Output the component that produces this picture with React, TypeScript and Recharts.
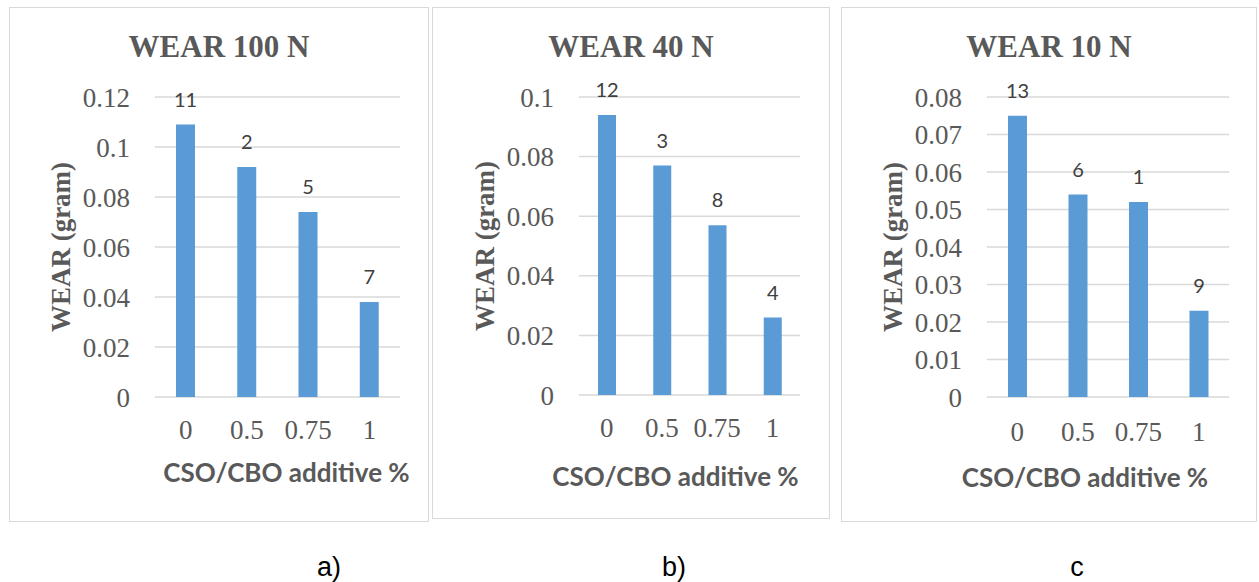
import React from 'react';
import { BarChart, Bar, XAxis, YAxis, CartesianGrid, LabelList } from 'recharts';

// CSO/CBO additive content (%) on the x axis
const additive = ['0', '0.5', '0.75', '1'];

// wear mass loss (gram) at each load
const wear100N = [0.109, 0.092, 0.074, 0.038];
const wear40N = [0.094, 0.077, 0.057, 0.026];
const wear10N = [0.075, 0.054, 0.052, 0.023];

// numbers printed above the bars
const tags100N = ['11', '2', '5', '7'];
const tags40N = ['12', '3', '8', '4'];
const tags10N = ['13', '6', '1', '9'];

// y axis ticks
const ticks100N = [0, 0.02, 0.04, 0.06, 0.08, 0.1, 0.12];
const ticks40N = [0, 0.02, 0.04, 0.06, 0.08, 0.1];
const ticks10N = [0, 0.01, 0.02, 0.03, 0.04, 0.05, 0.06, 0.07, 0.08];

const titles = ['WEAR 100 N', 'WEAR 40 N', 'WEAR 10 N'];
const captions = ['a)', 'b)', 'c'];

const BLUE = '#5b9bd5';
const GRID = '#d9d9d9';
const TEXT = '#595959';
const SERIF = '"Liberation Serif", "Times New Roman", serif';
const SANS = 'Lato, "Liberation Sans", sans-serif';

type PanelProps = {
  left: number;
  top: number;
  width: number;
  height: number;
  values: number[];
  tags: string[];
  ticks: number[];
  margin: { top: number; right: number; bottom: number; left: number };
  barSize: number;
  xTitleDx: number;
  xTitleDy: number;
  xTickMargin: number;
};

const WearPanel: React.FC<PanelProps> = ({
  left, top, width, height, values, tags, ticks, margin, barSize, xTitleDx, xTitleDy, xTickMargin,
}) => {
  const data = additive.map((name, i) => ({ name, wear: values[i], tag: tags[i] }));
  return (
    <div style={{ position: 'absolute', left, top, width, height }}>
      <div style={{ position: 'absolute', inset: 0, border: `1.5px solid ${GRID}` }} />
      <BarChart width={width} height={height} data={data} margin={margin}>
        <CartesianGrid vertical={false} stroke={GRID} strokeWidth={1.5} />
        <XAxis
          dataKey="name"
          height={100}
          interval={0}
          axisLine={false}
          tickLine={false}
          tickSize={0}
          tickMargin={xTickMargin}
          tick={{ fill: TEXT, fontSize: 27, fontFamily: SERIF }}
          label={{
            value: 'CSO/CBO additive %',
            position: 'center',
            dx: xTitleDx,
            dy: xTitleDy,
            fill: TEXT,
            style: { fontSize: 26, fontWeight: 700, fontFamily: SANS, fill: TEXT },
          }}
        />
        <YAxis
          width={100}
          domain={[0, ticks[ticks.length - 1]]}
          ticks={ticks}
          interval={0}
          axisLine={false}
          tickLine={false}
          tickSize={0}
          tickMargin={25}
          tickFormatter={(v: number) => String(v)}
          tick={{ fill: TEXT, fontSize: 27, fontFamily: SERIF }}
          label={{
            value: 'WEAR (gram)',
            angle: -90,
            position: 'center',
            dx: -45,
            fill: TEXT,
            style: { fontSize: 27, fontWeight: 700, fontFamily: SERIF, fill: TEXT },
          }}
        />
        <Bar dataKey="wear" fill={BLUE} barSize={barSize} isAnimationActive={false}>
          <LabelList dataKey="tag" position="top" offset={18} fill="#404040" fontSize={20} fontFamily={SANS} />
        </Bar>
      </BarChart>
    </div>
  );
};

const App: React.FC = () => {
  return (
    <div style={{ position: 'absolute', left: 0, top: 0, width: 1259, height: 582, background: '#fff' }}>
      <WearPanel
        left={9} top={7} width={420} height={515}
        values={wear100N} tags={tags100N} ticks={ticks100N}
        margin={{ top: 90, right: 29, bottom: 25, left: 46 }}
        barSize={19} xTitleDx={9} xTitleDy={26} xTickMargin={23}
      />
      <WearPanel
        left={432} top={7} width={398} height={512}
        values={wear40N} tags={tags40N} ticks={ticks40N}
        margin={{ top: 90, right: 30, bottom: 24, left: 47 }}
        barSize={18} xTitleDx={-14} xTitleDy={32} xTickMargin={23}
      />
      <WearPanel
        left={841} top={7} width={416} height={515}
        values={wear10N} tags={tags10N} ticks={ticks10N}
        margin={{ top: 90, right: 28, bottom: 25, left: 46 }}
        barSize={19} xTitleDx={-23} xTitleDy={31} xTickMargin={25}
      />
      <svg width={1259} height={582} style={{ position: 'absolute', left: 0, top: 0, pointerEvents: 'none' }}>
        {titles.map((t, i) => (
          <text key={t} x={[219, 631, 1049][i]} y={57} textAnchor="middle"
            fontFamily={SERIF} fontWeight={700} fontSize={31} fill={TEXT}>{t}</text>
        ))}
        {captions.map((c, i) => (
          <text key={c} x={[329, 674, 1077][i]} y={576} textAnchor="middle"
            fontFamily='"Liberation Sans", Arial, sans-serif' fontSize={27} fill="#000">{c}</text>
        ))}
      </svg>
    </div>
  );
};

export default App;
